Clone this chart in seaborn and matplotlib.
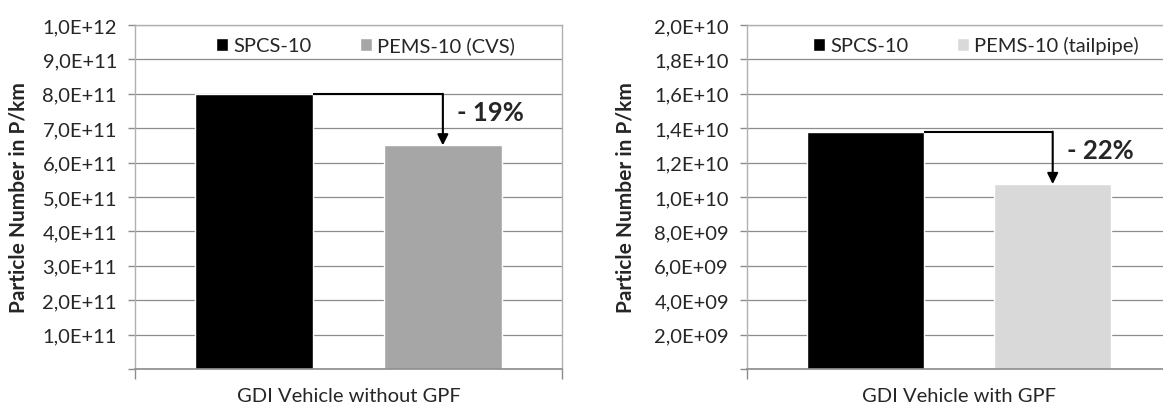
import matplotlib.pyplot as plt
import pandas as pd
import seaborn as sns
from matplotlib.patches import Patch
from matplotlib.ticker import FuncFormatter, MultipleLocator

# values
VEHICLES = ["GDI Vehicle without GPF", "GDI Vehicle with GPF"]
SPCS_PN = [8.0e11, 1.38e10]
PEMS_PN = [6.5e11, 1.075e10]
SPCS_LABEL = "SPCS-10"
PEMS_LABELS = ["PEMS-10 (CVS)", "PEMS-10 (tailpipe)"]
PEMS_COLORS = ["#a6a6a6", "#d9d9d9"]
Y_MAX = [1.0e12, 2.0e10]
Y_STEP = [1.0e11, 2.0e9]
REDUCTION = ["- 19%", "- 22%"]

sns.set_theme(style="white")
plt.rcParams["font.family"] = ["Lato", "DejaVu Sans"]

AX_GRAY = "#8c8c8c"


def sci_comma(v, _pos):
    if v <= 0:
        return ""
    return f"{v:.1E}".replace(".", ",")


def draw_panel(ax, i):
    df = pd.DataFrame(
        {
            "vehicle": [VEHICLES[i], VEHICLES[i]],
            "pn": [SPCS_PN[i], PEMS_PN[i]],
            "method": [SPCS_LABEL, PEMS_LABELS[i]],
        }
    )
    sns.barplot(
        data=df,
        x="vehicle",
        y="pn",
        hue="method",
        palette=["#000000", PEMS_COLORS[i]],
        saturation=1,
        width=0.884,
        gap=0.376,
        ax=ax,
        legend=False,
    )
    ax.set_xlim(-0.5, 0.5)
    ax.set_ylim(0, Y_MAX[i])
    ax.yaxis.set_major_locator(MultipleLocator(Y_STEP[i]))
    ax.yaxis.set_major_formatter(FuncFormatter(sci_comma))
    ax.grid(axis="y", color=AX_GRAY, linewidth=0.9)
    ax.set_axisbelow(True)
    for side in ["left", "top", "right"]:
        ax.spines[side].set_color("#b0b0b0")
        ax.spines[side].set_linewidth(1.0)
    ax.spines["bottom"].set_color(AX_GRAY)
    ax.spines["bottom"].set_linewidth(1.2)

    ax.tick_params(axis="y", which="major", direction="out", length=5, width=1,
                   color=AX_GRAY, labelsize=14.5, pad=8, left=True)
    ax.set_xticks([0])
    ax.set_xticks([-0.5, 0.5], minor=True)
    ax.tick_params(axis="x", which="major", length=0, labelsize=14.5, pad=13)
    ax.tick_params(axis="x", which="minor", direction="out", length=7, width=1,
                   color=AX_GRAY, bottom=True)
    ax.set_xlabel("")
    ax.set_ylabel("Particle Number in P/km", fontsize=15, fontweight="bold")
    ax.yaxis.set_label_coords([-0.25, -0.262][i], 0.5)

    handles = [
        Patch(facecolor="#000000", label=SPCS_LABEL),
        Patch(facecolor=PEMS_COLORS[i], label=PEMS_LABELS[i]),
    ]
    ax.legend(handles=handles, loc="upper center", bbox_to_anchor=(0.54, 1.02),
              ncol=2, frameon=False, fontsize=14.5, handlelength=0.62,
              handleheight=0.62, handletextpad=0.25, columnspacing=2.4)

    # step arrow from the SPCS bar down to the PEMS bar
    bars = sorted(ax.patches, key=lambda p: p.get_x())[:2]
    spcs_bar, pems_bar = bars
    x_start = spcs_bar.get_x() + spcs_bar.get_width()
    x_mid = pems_bar.get_x() + pems_bar.get_width() / 2
    h_top = spcs_bar.get_height()
    h_low = pems_bar.get_height()
    ax.plot([x_start, x_mid], [h_top, h_top], color="black", lw=1.5,
            solid_capstyle="butt")
    ax.annotate("", xy=(x_mid, h_low), xytext=(x_mid, h_top),
                arrowprops=dict(arrowstyle="-|>", color="black", lw=1.5,
                                mutation_scale=16, shrinkA=0, shrinkB=0))
    ax.annotate(REDUCTION[i], xy=(x_mid, h_top), xytext=(10, -13),
                textcoords="offset points", ha="left", va="center",
                fontsize=18.5, fontweight="bold")


fig = plt.figure(figsize=(11.63, 4.10), dpi=100)
ax_left = fig.add_axes([135 / 1163, 40 / 410, 427 / 1163, 344 / 410])
ax_right = fig.add_axes([747 / 1163, 40 / 410, 424 / 1163, 344 / 410])

draw_panel(ax_left, 0)
draw_panel(ax_right, 1)

fig.savefig("out.png", dpi=100)
